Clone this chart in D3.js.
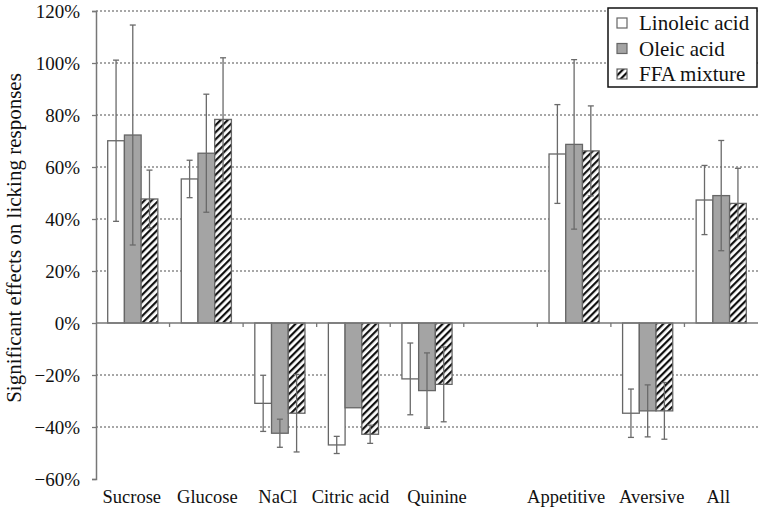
<!DOCTYPE html>
<html>
<head>
<meta charset="utf-8">
<script src="https://cdn.jsdelivr.net/npm/d3@7"></script>
<style>
  body { margin: 0; background: #fff; }
  svg { display: block; font-family: "Liberation Serif", "Times New Roman", serif; }
</style>
</head>
<body>
<svg id="chart" width="758" height="514"></svg>
<script>
// categories ("" is the empty gap between Quinine and Appetitive)
var categories = ["Sucrose", "Glucose", "NaCl", "Citric acid", "Quinine", "", "Appetitive", "Aversive", "All"];
var seriesNames = ["Linoleic acid", "Oleic acid", "FFA mixture"];

// values in %
var linoleic    = [70.1, 55.4, -30.9, -46.9, -21.5, null, 65.0, -34.7, 47.3];
var linoleicErr = [31.0,  7.2,  10.8,   3.3,  13.8, null, 19.0,   9.3, 13.3];
var oleic       = [72.3, 65.3, -42.4, -32.6, -26.0, null, 68.7, -33.8, 49.0];
var oleicErr    = [42.3, 22.7,   5.4,   0.0,  14.5, null, 32.6,  10.0, 21.2];
var ffa         = [47.7, 78.3, -34.7, -42.8, -23.6, null, 66.2, -33.8, 46.0];
var ffaErr      = [11.1, 23.7,  14.9,   3.5,  14.4, null, 17.3,  10.9, 13.5];

var yTicks = [-60, -40, -20, 0, 20, 40, 60, 80, 100, 120];

// small label nudges, the source labels are not exactly centred
var labelNudge = [-1, 1, -2, -3, 10, 0, -8, 4, -3];

var svg = d3.select("#chart");
var plotLeft = 96, plotRight = 758, plotTop = 11, plotBottom = 479;

var x0 = d3.scaleBand().domain(categories).range([plotLeft, plotRight]).paddingInner(0).paddingOuter(0);
var x1 = d3.scaleBand().domain(seriesNames).range([0, x0.bandwidth()]).paddingInner(0).paddingOuter(0.7);
var y = d3.scaleLinear().domain([-60, 120]).range([plotBottom, plotTop]);

// hatch pattern
var defs = svg.append("defs");
var pat = defs.append("pattern")
  .attr("id", "hatch")
  .attr("patternUnits", "userSpaceOnUse")
  .attr("width", 5).attr("height", 5)
  .attr("patternTransform", "rotate(45)");
pat.append("rect").attr("width", 5).attr("height", 5).attr("fill", "#fff");
pat.append("rect").attr("x", 0).attr("width", 2.2).attr("height", 5).attr("fill", "#111");

var fills = { "Linoleic acid": "#fff", "Oleic acid": "#a4a4a4", "FFA mixture": "url(#hatch)" };

// dotted grid
svg.append("g").selectAll("line")
  .data(yTicks.filter(function(t) { return t != 0 && t != -60; }))
  .enter().append("line")
    .attr("x1", plotLeft).attr("x2", plotRight)
    .attr("y1", function(d) { return y(d); })
    .attr("y2", function(d) { return y(d); })
    .attr("stroke", "#8a8a8a")
    .attr("stroke-width", 1.3)
    .attr("stroke-dasharray", "2,2");

// rows of data per category
var rows = categories.map(function(c, i) {
  return [
    { key: seriesNames[0], cat: c, v: linoleic[i], e: linoleicErr[i] },
    { key: seriesNames[1], cat: c, v: oleic[i], e: oleicErr[i] },
    { key: seriesNames[2], cat: c, v: ffa[i], e: ffaErr[i] }
  ].filter(function(d) { return d.v != null; });
});

var groups = svg.append("g").selectAll("g")
  .data(rows)
  .enter().append("g")
    .attr("transform", function(d, i) { return "translate(" + x0(categories[i]) + ",0)"; });

groups.selectAll("rect")
  .data(function(d) { return d; })
  .enter().append("rect")
    .attr("x", function(d) { return x1(d.key); })
    .attr("width", x1.bandwidth())
    .attr("y", function(d) { return y(Math.max(0, d.v)); })
    .attr("height", function(d) { return Math.abs(y(d.v) - y(0)); })
    .attr("fill", function(d) { return fills[d.key]; })
    .attr("stroke", "#666")
    .attr("stroke-width", 1.3);

// error bars
var eb = groups.selectAll("g.err")
  .data(function(d) { return d.filter(function(r) { return r.e > 0; }); })
  .enter().append("g").attr("class", "err")
    .attr("stroke", "#6a6a6a").attr("stroke-width", 1.3);
eb.append("line")
  .attr("x1", function(d) { return x1(d.key) + x1.bandwidth() / 2; })
  .attr("x2", function(d) { return x1(d.key) + x1.bandwidth() / 2; })
  .attr("y1", function(d) { return y(d.v - d.e); })
  .attr("y2", function(d) { return y(d.v + d.e); });
[-1, 1].forEach(function(s) {
  eb.append("line")
    .attr("x1", function(d) { return x1(d.key) + x1.bandwidth() / 2 - 3; })
    .attr("x2", function(d) { return x1(d.key) + x1.bandwidth() / 2 + 3; })
    .attr("y1", function(d) { return y(d.v + s * d.e); })
    .attr("y2", function(d) { return y(d.v + s * d.e); });
});

// y axis
var yAxis = svg.append("g")
  .attr("transform", "translate(" + plotLeft + ",0)")
  .call(d3.axisLeft(y).tickValues(yTicks).tickSize(4).tickPadding(12)
    .tickFormat(function(d) { return (d < 0 ? "\u2212" + (-d) : d) + "%"; }));
yAxis.select(".domain").attr("stroke", "#777").attr("stroke-width", 1.5);
yAxis.selectAll(".tick line").attr("stroke", "#777").attr("stroke-width", 1.3);
yAxis.selectAll("text").attr("fill", "#111").style("font-size", "19px")
  .style("font-family", "Liberation Serif, serif");

// x axis at zero, ticks at band boundaries
var xa = svg.append("g");
xa.append("line")
  .attr("x1", plotLeft).attr("x2", plotRight)
  .attr("y1", y(0)).attr("y2", y(0))
  .attr("stroke", "#777").attr("stroke-width", 1.5);
xa.selectAll("line.tk")
  .data(categories.slice(1))
  .enter().append("line").attr("class", "tk")
    .attr("x1", function(d) { return x0(d); })
    .attr("x2", function(d) { return x0(d); })
    .attr("y1", y(0)).attr("y2", y(0) + 4)
    .attr("stroke", "#777").attr("stroke-width", 1.3);

// category labels along the bottom
svg.append("g").selectAll("text")
  .data(categories)
  .enter().append("text")
    .attr("x", function(d, i) { return x0(d) + x0.bandwidth() / 2 + labelNudge[i]; })
    .attr("y", 503)
    .attr("text-anchor", "middle")
    .attr("fill", "#111")
    .style("font-size", "18.5px")
    .text(function(d) { return d; });

// y title
svg.append("text")
  .attr("transform", "translate(21,238) rotate(-90)")
  .attr("text-anchor", "middle")
  .attr("fill", "#111")
  .style("font-size", "21px")
  .text("Significant effects on licking responses");

// legend
var lg = svg.append("g");
lg.append("rect")
  .attr("x", 608).attr("y", 8).attr("width", 149).attr("height", 79)
  .attr("fill", "#fff").attr("stroke", "#111").attr("stroke-width", 1.5);
var li = lg.selectAll("g.item")
  .data(seriesNames)
  .enter().append("g").attr("class", "item")
    .attr("transform", function(d, i) { return "translate(617," + (23 + i * 25.5) + ")"; });
li.append("rect")
  .attr("x", 0).attr("y", -5).attr("width", 10).attr("height", 10)
  .attr("fill", function(d) { return fills[d]; })
  .attr("stroke", "#666").attr("stroke-width", 1.2);
li.append("text")
  .attr("x", 22).attr("y", 7)
  .attr("fill", "#111")
  .style("font-size", "21px")
  .text(function(d) { return d; });
</script>
</body>
</html>
